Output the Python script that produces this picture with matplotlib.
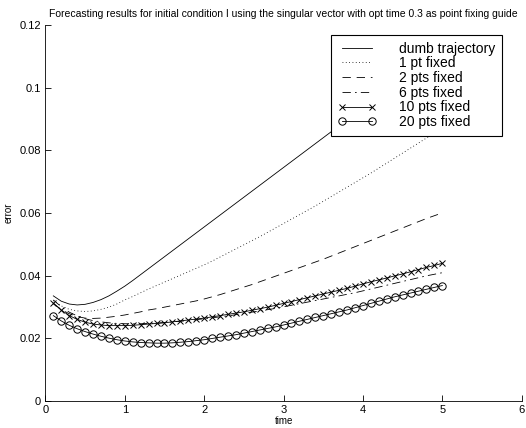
import numpy as np
import matplotlib
matplotlib.use("Agg")
import matplotlib.pyplot as plt

plt.rcParams['font.family'] = ['Liberation Sans', 'DejaVu Sans']

# time grid used by all runs
time = [0.1, 0.2, 0.3, 0.4, 0.5, 0.6, 0.7, 0.8, 0.9, 1.0,
        1.1, 1.2, 1.3, 1.4, 1.5, 1.6, 1.7, 1.8, 1.9, 2.0,
        2.1, 2.2, 2.3, 2.4, 2.5, 2.6, 2.7, 2.8, 2.9, 3.0,
        3.1, 3.2, 3.3, 3.4, 3.5, 3.6, 3.7, 3.8, 3.9, 4.0,
        4.1, 4.2, 4.3, 4.4, 4.5, 4.6, 4.7, 4.8, 4.9, 5.0]

dumb = [0.0335, 0.0318, 0.0309, 0.0306, 0.0308, 0.0314, 0.0323, 0.0335, 0.0350, 0.0366,
        0.0384, 0.0403, 0.0422, 0.0441, 0.0460, 0.0479, 0.0498, 0.0517, 0.0536, 0.0555,
        0.0574, 0.0593, 0.0612, 0.0631, 0.0650, 0.0669, 0.0688, 0.0707, 0.0726, 0.0745,
        0.0764, 0.0783, 0.0802, 0.0821, 0.0840, 0.0859, 0.0878, 0.0897, 0.0916, 0.0935,
        0.0954, 0.0973, 0.0992, 0.1011, 0.1030, 0.1049, 0.1068, 0.1087, 0.1106, 0.1125]

fixed1 = [0.0320, 0.0303, 0.0292, 0.0287, 0.0285, 0.0287, 0.0292, 0.0299, 0.0309, 0.0322,
          0.0333, 0.0345, 0.0357, 0.0368, 0.0379, 0.0390, 0.0401, 0.0412, 0.0423, 0.0434,
          0.0446, 0.0459, 0.0472, 0.0485, 0.0498, 0.0511, 0.0524, 0.0538, 0.0552, 0.0566,
          0.0580, 0.0594, 0.0608, 0.0622, 0.0637, 0.0652, 0.0667, 0.0682, 0.0697, 0.0712,
          0.0727, 0.0743, 0.0759, 0.0775, 0.0791, 0.0807, 0.0823, 0.0839, 0.0855, 0.0871]

fixed2 = [0.0310, 0.0291, 0.0278, 0.0269, 0.0264, 0.0263, 0.0264, 0.0267, 0.0270, 0.0274,
          0.0279, 0.0284, 0.0290, 0.0294, 0.0299, 0.0304, 0.0309, 0.0314, 0.0319, 0.0325,
          0.0332, 0.0339, 0.0347, 0.0355, 0.0363, 0.0371, 0.0380, 0.0389, 0.0398, 0.0407,
          0.0416, 0.0425, 0.0434, 0.0443, 0.0452, 0.0462, 0.0472, 0.0482, 0.0492, 0.0502,
          0.0512, 0.0522, 0.0532, 0.0542, 0.0552, 0.0562, 0.0572, 0.0582, 0.0591, 0.0600]

fixed6 = [0.0322, 0.0300, 0.0283, 0.0271, 0.0262, 0.0256, 0.0252, 0.0249, 0.0247, 0.0246,
          0.0246, 0.0246, 0.0247, 0.0248, 0.0250, 0.0252, 0.0254, 0.0256, 0.0259, 0.0262,
          0.0265, 0.0268, 0.0271, 0.0275, 0.0279, 0.0283, 0.0287, 0.0291, 0.0295, 0.0300,
          0.0305, 0.0310, 0.0315, 0.0320, 0.0325, 0.0330, 0.0335, 0.0340, 0.0345, 0.0351,
          0.0357, 0.0363, 0.0369, 0.0375, 0.0381, 0.0387, 0.0393, 0.0399, 0.0404, 0.0409]

fixed10 = [0.0312, 0.0290, 0.0272, 0.0260, 0.0251, 0.0245, 0.0242, 0.0240, 0.0240, 0.0240,
           0.0241, 0.0243, 0.0245, 0.0247, 0.0249, 0.0252, 0.0255, 0.0258, 0.0261, 0.0264,
           0.0268, 0.0272, 0.0276, 0.0280, 0.0284, 0.0289, 0.0294, 0.0299, 0.0305, 0.0311,
           0.0317, 0.0323, 0.0329, 0.0335, 0.0341, 0.0347, 0.0353, 0.0359, 0.0366, 0.0373,
           0.0380, 0.0386, 0.0392, 0.0399, 0.0405, 0.0412, 0.0419, 0.0426, 0.0432, 0.0439]

fixed20 = [0.0272, 0.0255, 0.0241, 0.0230, 0.0221, 0.0213, 0.0206, 0.0200, 0.0195, 0.0191,
           0.0188, 0.0186, 0.0185, 0.0184, 0.0184, 0.0185, 0.0187, 0.0189, 0.0192, 0.0195,
           0.0199, 0.0203, 0.0207, 0.0211, 0.0216, 0.0221, 0.0226, 0.0231, 0.0236, 0.0242,
           0.0248, 0.0254, 0.0260, 0.0266, 0.0272, 0.0278, 0.0284, 0.0290, 0.0297, 0.0304,
           0.0311, 0.0318, 0.0325, 0.0332, 0.0338, 0.0344, 0.0350, 0.0356, 0.0362, 0.0368]

labels = ['dumb trajectory', '1 pt fixed', '2 pts fixed', '6 pts fixed',
          '10 pts fixed', '20 pts fixed']
xticks = [0, 1, 2, 3, 4, 5, 6]
yticks = [0, 0.02, 0.04, 0.06, 0.08, 0.1, 0.12]
ytick_labels = ['0', '0.02', '0.04', '0.06', '0.08', '0.1', '0.12']

fig = plt.figure(figsize=(5.26, 4.28), dpi=100)
ax = fig.add_axes([0.0863, 0.0636, 0.9055, 0.878])

lw = 0.6
ax.plot(time, dumb, color='k', lw=lw, label=labels[0])
ax.plot(time, fixed1, color='k', lw=lw, linestyle=(0, (1, 3)), label=labels[1])
ax.plot(time, fixed2, color='k', lw=lw, linestyle=(0, (10, 7)), label=labels[2])
ax.plot(time, fixed6, color='k', lw=lw, linestyle=(0, (10, 5, 2, 5)), label=labels[3])
ax.plot(time, fixed10, color='k', lw=lw, marker='x', ms=4, mew=0.7, label=labels[4])
ax.plot(time, fixed20, color='k', lw=lw, marker='o', ms=5.3, mew=0.7,
        mfc='none', label=labels[5])

ax.set_xlim(0, 6)
ax.set_ylim(0, 0.12)
ax.set_xticks(xticks)
ax.set_yticks(yticks)
ax.set_yticklabels(ytick_labels)
ax.tick_params(direction='in', length=4, width=0.6, labelsize=8, pad=3)
ax.spines['top'].set_visible(False)
ax.spines['right'].set_visible(False)
ax.spines['left'].set_linewidth(0.6)
ax.spines['bottom'].set_linewidth(0.6)

ax.set_xlabel('time', fontsize=7, labelpad=1)
ax.set_ylabel('error', fontsize=7, labelpad=4)
ax.set_title('Forecasting results for initial condition I using the singular vector '
             'with opt time 0.3 as point fixing guide', fontsize=7.5, pad=5.5)

leg = ax.legend(loc='upper right', bbox_to_anchor=(0.954, 0.919),
                bbox_transform=fig.transFigure, fontsize=10, numpoints=2,
                handlelength=2.8, handletextpad=1.6, labelspacing=0.05,
                borderpad=0.5, borderaxespad=0, fancybox=False, framealpha=1)
leg.get_frame().set_edgecolor('k')
leg.get_frame().set_linewidth(0.8)

fig.savefig('out.png', dpi=100)
